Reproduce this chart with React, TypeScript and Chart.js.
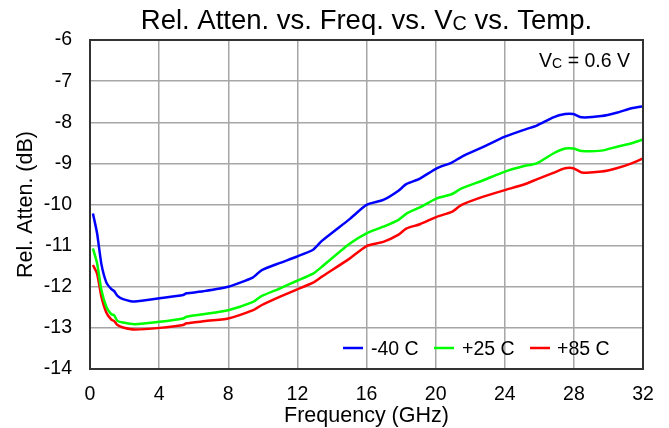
import React, { useEffect, useRef } from "react";
import { Chart, registerables } from "chart.js";

Chart.register(...registerables);

const freqGHz = [0.17, 0.41, 0.66, 0.95, 1.24, 1.39, 1.59, 1.91, 2.59, 4.04, 5.39, 5.58, 6.54, 8.0, 9.44, 9.92, 11.0, 11.95, 12.91, 13.4, 15.04, 16.0, 16.97, 17.83, 18.32, 19.09, 20.06, 20.93, 21.5, 22.76, 24.01, 25.07, 25.85, 26.81, 27.49, 27.97, 28.45, 29.6, 30.47, 31.34, 32.0];

const attenM40 = [-10.22, -10.7, -11.45, -11.9, -12.06, -12.1, -12.22, -12.3, -12.36, -12.28, -12.2, -12.16, -12.11, -12.0, -11.77, -11.6, -11.42, -11.27, -11.1, -10.89, -10.35, -10.01, -9.89, -9.67, -9.5, -9.37, -9.12, -8.98, -8.84, -8.6, -8.35, -8.19, -8.08, -7.88, -7.8, -7.8, -7.88, -7.85, -7.77, -7.66, -7.61];

const attenP25 = [-11.07, -11.43, -12.08, -12.49, -12.67, -12.69, -12.83, -12.87, -12.91, -12.85, -12.77, -12.73, -12.67, -12.57, -12.37, -12.23, -12.04, -11.86, -11.68, -11.52, -10.95, -10.7, -10.54, -10.38, -10.22, -10.07, -9.85, -9.75, -9.61, -9.41, -9.2, -9.07, -9.0, -8.76, -8.64, -8.64, -8.7, -8.69, -8.6, -8.51, -8.42];

const attenP85 = [-11.47, -11.68, -12.24, -12.63, -12.8, -12.83, -12.93, -12.99, -13.04, -13.0, -12.93, -12.89, -12.84, -12.77, -12.57, -12.45, -12.24, -12.07, -11.9, -11.76, -11.31, -11.01, -10.91, -10.74, -10.58, -10.48, -10.3, -10.18, -10.01, -9.81, -9.65, -9.52, -9.39, -9.23, -9.12, -9.12, -9.22, -9.2, -9.12, -9.0, -8.88];

const seriesLabels = ["-40 C", "+25 C", "+85 C"];
const seriesColors = ["#0000ff", "#00ff00", "#ff0000"];
const xTicks = [0, 4, 8, 12, 16, 20, 24, 28, 32];
const yTicks = [-14, -13, -12, -11, -10, -9, -8, -7, -6];

const FONT = "'Liberation Sans', Arial, sans-serif";

function drawSubText(ctx: CanvasRenderingContext2D, parts: { t: string; sub?: boolean }[], x: number, y: number, size: number, align: "center" | "right" | "left") {
  const widths = parts.map((p) => {
    ctx.font = `${p.sub ? size * 0.72 : size}px ${FONT}`;
    return ctx.measureText(p.t).width;
  });
  const total = widths.reduce((a, b) => a + b, 0);
  let cx = align === "center" ? x - total / 2 : align === "right" ? x - total : x;
  ctx.textAlign = "left";
  ctx.textBaseline = "alphabetic";
  parts.forEach((p, i) => {
    ctx.font = `${p.sub ? size * 0.72 : size}px ${FONT}`;
    ctx.fillText(p.t, cx, p.sub ? y + 1 : y);
    cx += widths[i];
  });
}

const overlay = {
  id: "overlay",
  afterDraw(chart: any) {
    const ctx = chart.ctx as CanvasRenderingContext2D;
    const a = chart.chartArea;
    ctx.save();
    // plot border
    ctx.strokeStyle = "#333333";
    ctx.lineWidth = 2;
    ctx.strokeRect(a.left, a.top, a.right - a.left, a.bottom - a.top);
    ctx.fillStyle = "#000";
    // title
    drawSubText(ctx, [{ t: "Rel. Atten. vs. Freq. vs. V" }, { t: "C", sub: true }, { t: " vs. Temp." }], (a.left + a.right) / 2, 29, 27.5, "center");
    // annotation
    drawSubText(ctx, [{ t: "V" }, { t: "C", sub: true }, { t: " = 0.6 V" }], 630, 67, 19.5, "right");
    // x title
    ctx.font = `21.5px ${FONT}`;
    ctx.textAlign = "center";
    ctx.textBaseline = "alphabetic";
    ctx.fillText("Frequency (GHz)", (a.left + a.right) / 2, 422);
    // y title
    ctx.save();
    ctx.translate(31.5, (a.top + a.bottom) / 2);
    ctx.rotate(-Math.PI / 2);
    ctx.fillText("Rel. Atten. (dB)", 0, 0);
    ctx.restore();
    // legend
    const items = [
      { x: 343, tx: 371 },
      { x: 434, tx: 462 },
      { x: 530, tx: 557 },
    ];
    items.forEach((it, i) => {
      ctx.strokeStyle = seriesColors[i];
      ctx.lineWidth = 2.5;
      ctx.beginPath();
      ctx.moveTo(it.x, 348);
      ctx.lineTo(it.x + 20, 348);
      ctx.stroke();
      ctx.fillStyle = "#000";
      ctx.font = `19.5px ${FONT}`;
      ctx.textAlign = "left";
      ctx.textBaseline = "alphabetic";
      ctx.fillText(seriesLabels[i], it.tx, 355);
    });
    ctx.restore();
  },
};

export default function App() {
  const ref = useRef<HTMLCanvasElement | null>(null);
  useEffect(() => {
    document.body.style.margin = "0";
    const values = [attenM40, attenP25, attenP85];
    const chart = new Chart(ref.current!, {
      type: "line",
      data: {
        datasets: values.map((vals, i) => ({
          label: seriesLabels[i],
          data: freqGHz.map((f, j) => ({ x: f, y: vals[j] })),
          borderColor: seriesColors[i],
          backgroundColor: seriesColors[i],
          borderWidth: 2.5,
          pointRadius: 0,
          tension: 0.2,
          fill: false,
        })),
      },
      options: {
        animation: false,
        responsive: false,
        devicePixelRatio: 1,
        layout: { padding: { left: 0, right: 26, top: 40, bottom: 0 } },
        plugins: { legend: { display: false }, title: { display: false }, tooltip: { enabled: false } },
        scales: {
          x: {
            type: "linear",
            min: 0,
            max: 32,
            afterFit: (s: any) => { s.height = 59; },
            afterBuildTicks: (s: any) => { s.ticks = xTicks.map((v) => ({ value: v })); },
            grid: { color: "#a6a6a6", lineWidth: 1.5, drawTicks: false },
            border: { display: false },
            ticks: { color: "#000", font: { family: FONT, size: 19.5 }, padding: 14, maxRotation: 0, callback: (v: any) => String(v) },
          },
          y: {
            type: "linear",
            min: -14,
            max: -6,
            afterFit: (s: any) => { s.width = 90; },
            afterBuildTicks: (s: any) => { s.ticks = yTicks.map((v) => ({ value: v })); },
            grid: { color: "#a6a6a6", lineWidth: 1.5, drawTicks: false },
            border: { display: false },
            ticks: { color: "#000", font: { family: FONT, size: 19.5 }, padding: 18, callback: (v: any) => String(v) },
          },
        },
      },
      plugins: [overlay],
    });
    return () => chart.destroy();
  }, []);
  return (
    <div style={{ position: "absolute", left: 0, top: 0, width: 669, height: 428, background: "#fff" }}>
      <canvas ref={ref} width={669} height={428} style={{ width: 669, height: 428 }} />
    </div>
  );
}
